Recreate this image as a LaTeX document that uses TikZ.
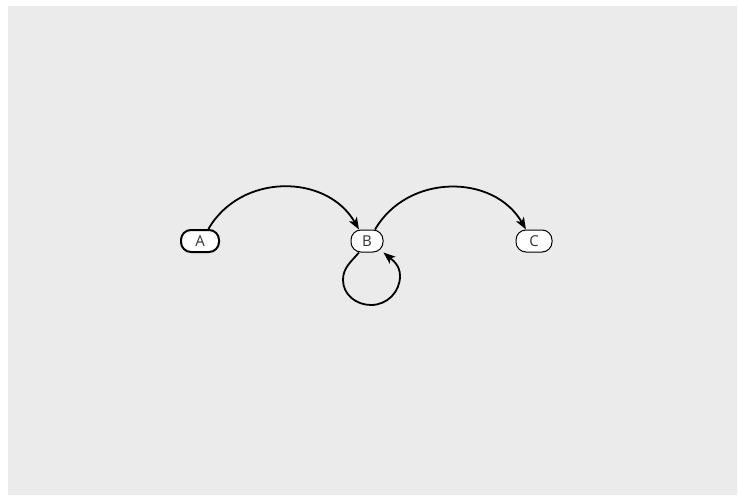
\documentclass[tikz,border=0pt]{standalone}
\usepackage{fontspec}
\setmainfont{Open Sans}
\usetikzlibrary{arrows.meta}
\definecolor{bg}{HTML}{EBEBEB}
\definecolor{txt}{HTML}{333333}
\tikzset{
  state/.style={draw=black, fill=white, rounded corners=10pt, minimum height=22pt, inner sep=0pt, font=\fontsize{15}{17}\selectfont, text=txt, line width=1pt},
  edge/.style={line width=1.8pt, -{Stealth[length=12pt,width=9pt,inset=3pt]}}
}
\begin{document}
\begin{tikzpicture}[x=1pt,y=-1pt]
\useasboundingbox (0,0) rectangle (738,495);
\fill[white] (0,0) rectangle (738,495);
\fill[bg] (8,6) rectangle (737,495);
\node[state, minimum width=38pt, line width=2pt] (A) at (200,241) {A};
\node[state, minimum width=32pt] (B) at (367,241) {B};
\node[state, minimum width=36pt] (C) at (534,241) {C};
\coordinate (lpL) at (343,280);
\coordinate (lp) at (371,305);
\coordinate (lpR) at (400,276);
\draw[edge] (A.55) to[out=60,in=120,looseness=1.1] (B.125);
\draw[edge] (B.55) to[out=60,in=120,looseness=1.1] (C.125);
\draw[edge] (B.-125) to[out=-130,in=90] (lpL) to[out=-90,in=180] (lp) to[out=0,in=-90] (lpR) to[out=90,in=-40] (B.-35);
\end{tikzpicture}
\end{document}
